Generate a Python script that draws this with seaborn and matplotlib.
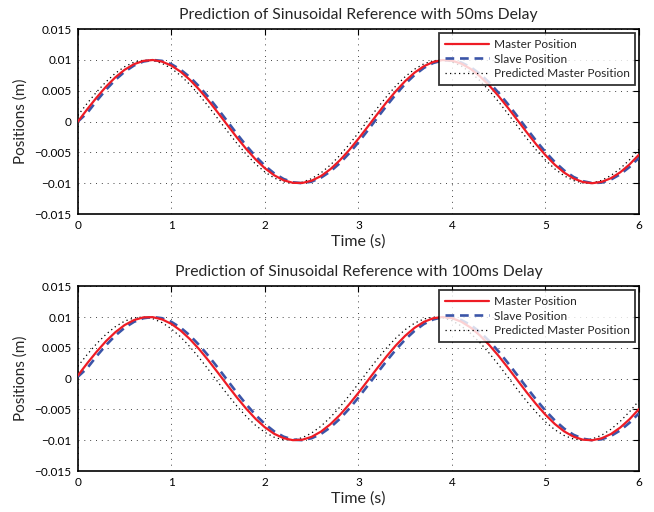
import numpy as np
import pandas as pd
import matplotlib
matplotlib.use("Agg")
import matplotlib.pyplot as plt
import seaborn as sns

# sample times (s)
time_s = [0.0, 0.1, 0.2, 0.3, 0.4, 0.5, 0.6, 0.7, 0.8, 0.9,
          1.0, 1.1, 1.2, 1.3, 1.4, 1.5, 1.6, 1.7, 1.8, 1.9,
          2.0, 2.1, 2.2, 2.3, 2.4, 2.5, 2.6, 2.7, 2.8, 2.9,
          3.0, 3.1, 3.2, 3.3, 3.4, 3.5, 3.6, 3.7, 3.8, 3.9,
          4.0, 4.1, 4.2, 4.3, 4.4, 4.5, 4.6, 4.7, 4.8, 4.9,
          5.0, 5.1, 5.2, 5.3, 5.4, 5.5, 5.6, 5.7, 5.8, 5.9, 6.0]

# positions, in mm
# 50 ms delay
master_50 = [0.00, 1.99, 3.89, 5.65, 7.17, 8.41, 9.32, 9.85, 10.00, 9.74,
             9.09, 8.09, 6.76, 5.16, 3.35, 1.41, -0.58, -2.56, -4.43, -6.12,
             -7.57, -8.72, -9.52, -9.94, -9.96, -9.59, -8.84, -7.73, -6.31, -4.65,
             -2.79, -0.83, 1.17, 3.12, 4.94, 6.57, 7.94, 8.99, 9.68, 9.99,
             9.89, 9.41, 8.55, 7.34, 5.85, 4.12, 2.23, 0.25, -1.74, -3.67,
             -5.44, -7.00, -8.28, -9.23, -9.81, -10.00, -9.79, -9.19, -8.23, -6.94, -5.37]
slave_50 = [0.00, 1.40, 3.34, 5.15, 6.76, 8.09, 9.10, 9.75, 10.00, 9.86,
            9.32, 8.42, 7.19, 5.66, 3.91, 2.00, 0.02, -1.97, -3.88, -5.63,
            -7.16, -8.41, -9.31, -9.85, -10.00, -9.74, -9.10, -8.10, -6.77, -5.17,
            -3.37, -1.43, 0.57, 2.54, 4.41, 6.11, 7.56, 8.71, 9.51, 9.93,
            9.96, 9.59, 8.84, 7.74, 6.33, 4.66, 2.81, 0.85, -1.15, -3.10,
            -4.93, -6.56, -7.93, -8.98, -9.67, -9.98, -9.90, -9.41, -8.55, -7.36, -5.86]
predicted_50 = [1.00, 2.96, 4.80, 6.44, 7.84, 8.91, 9.64, 9.97, 9.92, 9.46,
                8.63, 7.46, 5.98, 4.27, 2.39, 0.41, -1.58, -3.51, -5.30, -6.88,
                -8.18, -9.16, -9.78, -10.00, -9.82, -9.26, -8.32, -7.05, -5.51, -3.74,
                -1.82, 0.17, 2.15, 4.05, 5.79, 7.29, 8.51, 9.38, 9.88, 9.99,
                9.70, 9.02, 7.98, 6.63, 5.01, 3.19, 1.24, -0.75, -2.72, -4.58,
                -6.25, -7.68, -8.80, -9.57, -9.95, -9.95, -9.54, -8.75, -7.62, -6.18, -4.50]

# 100 ms delay
master_100 = [0.50, 2.48, 4.35, 6.06, 7.52, 8.69, 9.50, 9.94, 9.98, 9.62,
              8.89, 7.79, 6.39, 4.73, 2.88, 0.92, -1.08, -3.04, -4.87, -6.52,
              -7.90, -8.96, -9.67, -9.99, -9.92, -9.45, -8.60, -7.41, -5.93, -4.20,
              -2.31, -0.33, 1.66, 3.59, 5.38, 6.95, 8.24, 9.21, 9.80, 10.00,
              9.82, 9.24, 8.29, 7.01, 5.44, 3.67, 1.74, -0.25, -2.24, -4.13,
              -5.86, -7.36, -8.56, -9.42, -9.91, -10.00, -9.69, -9.00, -7.94, -6.58, -4.94]
slave_100 = [0.30, 1.69, 3.62, 5.40, 6.97, 8.25, 9.21, 9.80, 10.00, 9.81,
             9.22, 8.26, 6.98, 5.41, 3.63, 1.71, -0.28, -2.27, -4.16, -5.88,
             -7.37, -8.57, -9.42, -9.90, -9.99, -9.67, -8.98, -7.92, -6.55, -4.91,
             -3.08, -1.13, 0.87, 2.83, 4.68, 6.34, 7.75, 8.86, 9.60, 9.97,
             9.94, 9.51, 8.70, 7.55, 6.09, 4.39, 2.52, 0.55, -1.45, -3.39,
             -5.19, -6.78, -8.11, -9.11, -9.75, -10.00, -9.85, -9.31, -8.40, -7.15, -5.62]
predicted_100 = [2.00, 3.91, 5.66, 7.18, 8.42, 9.33, 9.86, 10.00, 9.74, 9.09,
                 8.08, 6.75, 5.15, 3.34, 1.40, -0.60, -2.57, -4.44, -6.13, -7.58,
                 -8.72, -9.52, -9.94, -9.96, -9.59, -8.83, -7.72, -6.30, -4.64, -2.78,
                 -0.82, 1.18, 3.13, 4.95, 6.58, 7.95, 9.00, 9.68, 9.99, 9.89,
                 9.41, 8.54, 7.34, 5.84, 4.11, 2.22, 0.23, -1.76, -3.68, -5.45,
                 -7.01, -8.29, -9.23, -9.81, -10.00, -9.79, -9.19, -8.22, -6.93, -5.36, -3.57]

titles = ["Prediction of Sinusoidal Reference with 50ms Delay",
          "Prediction of Sinusoidal Reference with 100ms Delay"]
series_names = ["Master Position", "Slave Position", "Predicted Master Position"]
x_ticks = [0, 1, 2, 3, 4, 5, 6]
y_ticks = [-0.015, -0.01, -0.005, 0, 0.005, 0.01, 0.015]
y_tick_labels = ["\u22120.015", "\u22120.01", "\u22120.005", "0", "0.005", "0.01", "0.015"]

sns.set_style("white")
plt.rcParams["font.family"] = ["Lato", "DejaVu Sans"]

fig = plt.figure(figsize=(6.54, 5.12), dpi=100)
ax_top = fig.add_axes([0.119, 0.582, 0.858, 0.361])
ax_bot = fig.add_axes([0.119, 0.080, 0.858, 0.361])

panels = [(ax_top, master_50, slave_50, predicted_50, titles[0]),
          (ax_bot, master_100, slave_100, predicted_100, titles[1])]

for ax, master, slave, predicted, title in panels:
    df = pd.DataFrame({"t": time_s,
                       "master": np.array(master) / 1000,
                       "slave": np.array(slave) / 1000,
                       "predicted": np.array(predicted) / 1000})

    # red master on top, blue dashed slave under it, dotted prediction at the back
    sns.lineplot(data=df, x="t", y="master", ax=ax, color="#ee1c25",
                 linewidth=1.6, label=series_names[0], zorder=4)
    sns.lineplot(data=df, x="t", y="slave", ax=ax, color="#3b55a8",
                 linewidth=1.9, label=series_names[1], zorder=3)
    sns.lineplot(data=df, x="t", y="predicted", ax=ax, color="black",
                 linewidth=0.9, label=series_names[2], zorder=2)
    ax.lines[1].set_dashes((3.3, 2.2))
    ax.lines[2].set_dashes((1, 2.6))

    ax.set_xlim(0, 6)
    ax.set_ylim(-0.015, 0.015)
    ax.set_xticks(x_ticks)
    ax.set_yticks(y_ticks)
    ax.set_yticklabels(y_tick_labels)
    ax.tick_params(direction="in", length=4, width=0.8, top=True, right=True,
                   labelsize=8.5, pad=4.5, colors="black")
    ax.grid(True, color="#444444", linestyle=(0, (1, 5)), linewidth=0.7)
    for s in ax.spines.values():
        s.set_color("black")
        s.set_linewidth(1.2)

    ax.set_title(title, fontsize=11.3, pad=7)
    ax.set_xlabel("Time (s)", fontsize=11.5, labelpad=2)
    ax.set_ylabel("Positions (m)", fontsize=11, labelpad=5)

    handles, labels = ax.get_legend_handles_labels()
    leg = ax.legend(handles, labels, loc="upper right", fontsize=8.6,
                    frameon=True, fancybox=False, handlelength=3.7,
                    handletextpad=0.4, borderpad=0.45, labelspacing=0.32,
                    borderaxespad=0.35)
    leg.get_frame().set_edgecolor("black")
    leg.get_frame().set_linewidth(1.3)

fig.savefig("out.png", dpi=100)
